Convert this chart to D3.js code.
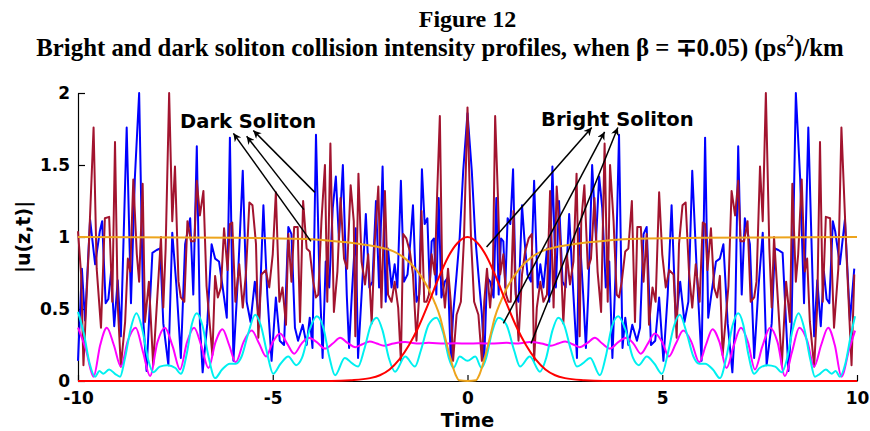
<!DOCTYPE html>
<html><head><meta charset="utf-8">
<script src="https://cdn.jsdelivr.net/npm/d3@7"></script>
<style>body{margin:0;background:#fff}svg{display:block}</style>
</head><body>
<svg id="chart" width="870" height="431"></svg>
<script>
// ---- tick labels ----
const xTicks = [-10, -5, 0, 5, 10];
const xTickLabels = ["-10", "-5", "0", "5", "10"];
const yTicks = [0, 0.5, 1, 1.5, 2];
const yTickLabels = ["0", "0.5", "1", "1.5", "2"];

// ---- series values [time, |u|] ----
const blueWave = [[-10,0.14],[-9.9,0.78],[-9.82,0.42],[-9.69,1.12],[-9.56,0.81],[-9.44,1.04],[-9.38,1.11],[-9.29,0.54],[-9.22,0.57],[-9.15,0.76],[-9.07,0.38],[-8.98,0.70],[-8.9,0.31],[-8.75,1.76],[-8.64,0.54],[-8.54,1.41],[-8.43,2.0],[-8.32,0.4],[-8.24,0.07],[-8.09,0.89],[-7.98,0.91],[-7.89,0.92],[-7.81,0.4],[-7.68,0.11],[-7.58,1.03],[-7.47,0.65],[-7.36,0.16],[-7.25,0.95],[-7.12,1.13],[-7.04,0.6],[-6.95,1.63],[-6.87,0.4],[-6.8,0.06],[-6.68,0.4],[-6.57,0.95],[-6.48,0.85],[-6.38,0.83],[-6.27,0.62],[-6.18,0.44],[-6.1,1.69],[-6.01,0.14],[-5.89,0.74],[-5.77,1.46],[-5.67,0.55],[-5.57,0.41],[-5.46,0.69],[-5.35,0.41],[-5.24,1.22],[-5.14,0.6],[-5.03,0.14],[-4.92,0.58],[-4.82,0.28],[-4.71,0.25],[-4.6,1.07],[-4.52,1.02],[-4.43,0.37],[-4.35,0.28],[-4.23,0.39],[-4.13,0.25],[-4.05,0.44],[-3.98,0.23],[-3.89,1.71],[-3.81,0.81],[-3.72,0.16],[-3.64,0.83],[-3.55,0.65],[-3.46,1.2],[-3.38,1.42],[-3.3,0.98],[-3.2,1.5],[-3.1,0.6],[-3.04,0.23],[-2.97,0.6],[-2.87,1.06],[-2.81,0.16],[-2.69,0.74],[-2.61,1.16],[-2.52,0.65],[-2.44,0.69],[-2.35,1.25],[-2.27,0.65],[-2.18,1.49],[-2.1,0.55],[-2.04,0.92],[-1.95,0.65],[-1.87,0.81],[-1.8,0.65],[-1.71,1.39],[-1.63,0.69],[-1.54,0.74],[-1.46,0.99],[-1.4,1.22],[-1.31,0.55],[-1.24,0.6],[-1.17,1.47],[-1.1,1.09],[-1.03,1.13],[-0.97,0.65],[-0.92,0.97],[-0.86,0.99],[-0.8,0.6],[-0.74,1.27],[-0.67,0.58],[-0.58,0.69],[-0.5,0.72],[-0.43,0.14],[-0.37,0.46],[-0.28,0.74],[-0.2,1.0],[-0.11,1.46],[0,1.86],
[0.11,1.46],[0.2,1.0],[0.28,0.74],[0.37,0.46],[0.43,0.14],[0.5,0.72],[0.58,0.69],[0.67,0.58],[0.74,1.27],[0.8,0.6],[0.86,0.99],[0.92,0.97],[0.97,0.65],[1.03,1.13],[1.1,1.09],[1.17,1.47],[1.24,0.6],[1.31,0.55],[1.4,1.22],[1.46,0.99],[1.54,0.74],[1.63,0.69],[1.71,1.39],[1.8,0.65],[1.87,0.81],[1.95,0.65],[2.04,0.92],[2.1,0.55],[2.18,1.49],[2.27,0.65],[2.35,1.25],[2.44,0.69],[2.52,0.65],[2.61,1.16],[2.69,0.74],[2.81,0.16],[2.87,1.06],[2.97,0.6],[3.04,0.23],[3.1,0.6],[3.2,1.5],[3.3,0.98],[3.38,1.42],[3.46,1.2],[3.55,0.65],[3.64,0.83],[3.72,0.16],[3.81,0.81],[3.89,1.71],[3.98,0.23],[4.05,0.44],[4.13,0.25],[4.23,0.39],[4.35,0.28],[4.43,0.37],[4.52,1.02],[4.6,1.07],[4.71,0.25],[4.82,0.28],[4.92,0.58],[5.03,0.14],[5.14,0.6],[5.24,1.22],[5.35,0.41],[5.46,0.69],[5.57,0.41],[5.67,0.55],[5.77,1.46],[5.89,0.74],[6.01,0.14],[6.1,1.69],[6.18,0.44],[6.27,0.62],[6.38,0.83],[6.48,0.85],[6.57,0.95],[6.68,0.4],[6.8,0.06],[6.87,0.4],[6.95,1.63],[7.04,0.6],[7.12,1.13],[7.25,0.95],[7.36,0.16],[7.47,0.65],[7.58,1.03],[7.68,0.11],[7.81,0.4],[7.89,0.92],[7.98,0.91],[8.09,0.89],[8.24,0.07],[8.32,0.4],[8.43,2.0],[8.54,1.41],[8.64,0.54],[8.75,1.76],[8.9,0.31],[8.98,0.70],[9.07,0.38],[9.15,0.76],[9.22,0.57],[9.29,0.54],[9.38,1.11],[9.44,1.04],[9.56,0.81],[9.69,1.12],[9.82,0.42],[9.93,0.78]];

const darkRedWave = [[-10,1.04],[-9.92,0.74],[-9.86,0.11],[-9.73,0.88],[-9.6,1.76],[-9.52,0.78],[-9.41,0.37],[-9.31,1.13],[-9.2,1.14],[-9.12,0.55],[-9.05,1.66],[-8.98,0.53],[-8.9,0.1],[-8.79,0.41],[-8.72,0.85],[-8.66,0.76],[-8.58,1.4],[-8.49,0.88],[-8.43,0.69],[-8.34,1.37],[-8.28,0.41],[-8.18,0.69],[-8.07,0.11],[-7.94,0.69],[-7.87,1.0],[-7.81,0.51],[-7.75,0.92],[-7.66,2.0],[-7.58,1.11],[-7.51,1.49],[-7.42,0.69],[-7.36,0.58],[-7.27,0.55],[-7.19,1.11],[-7.1,0.97],[-7.01,0.97],[-6.95,1.39],[-6.87,1.15],[-6.78,1.32],[-6.7,0.66],[-6.61,0.37],[-6.55,0.18],[-6.48,0.73],[-6.41,0.58],[-6.33,0.65],[-6.25,1.06],[-6.16,0.77],[-6.1,1.09],[-6.04,1.1],[-5.96,0.55],[-5.86,0.81],[-5.77,0.51],[-5.69,0.74],[-5.6,1.24],[-5.52,1.22],[-5.43,0.95],[-5.37,0.3],[-5.29,0.74],[-5.18,0.77],[-5.09,0.65],[-5.0,0.88],[-4.92,1.31],[-4.83,0.55],[-4.75,0.65],[-4.66,0.39],[-4.6,1.02],[-4.52,0.69],[-4.45,1.07],[-4.36,1.07],[-4.3,0.41],[-4.22,1.25],[-4.13,0.92],[-4.05,0.9],[-3.96,0.69],[-3.89,0.58],[-3.83,0.6],[-3.75,1.11],[-3.66,1.5],[-3.6,0.55],[-3.52,1.65],[-3.43,0.48],[-3.34,0.76],[-3.26,1.27],[-3.17,0.85],[-3.09,0.78],[-3.0,1.36],[-2.92,1.11],[-2.88,0.31],[-2.8,1.44],[-2.72,0.83],[-2.63,0.67],[-2.55,0.88],[-2.46,0.4],[-2.38,0.97],[-2.29,1.35],[-2.21,0.51],[-2.12,1.32],[-2.04,0.6],[-1.95,0.55],[-1.87,0.69],[-1.78,0.51],[-1.71,0.14],[-1.65,1.02],[-1.57,0.99],[-1.48,0.9],[-1.4,0.74],[-1.31,0.28],[-1.22,0.69],[-1.18,1.18],[-1.11,0.55],[-1.05,0.55],[-0.99,0.6],[-0.92,0.88],[-0.84,0.74],[-0.78,1.29],[-0.71,1.84],[-0.65,0.74],[-0.58,0.51],[-0.5,0.78],[-0.43,0.55],[-0.37,0.14],[-0.28,0.46],[-0.17,0.55],[-0.09,0.99],[0,1.9],
[0.09,0.99],[0.17,0.55],[0.28,0.46],[0.37,0.14],[0.43,0.55],[0.5,0.78],[0.58,0.51],[0.65,0.74],[0.71,1.84],[0.78,1.29],[0.84,0.74],[0.92,0.88],[0.99,0.6],[1.05,0.55],[1.11,0.55],[1.18,1.18],[1.22,0.69],[1.31,0.28],[1.4,0.74],[1.48,0.9],[1.57,0.99],[1.65,1.02],[1.71,0.14],[1.78,0.51],[1.87,0.69],[1.95,0.55],[2.04,0.6],[2.12,1.32],[2.21,0.51],[2.29,1.35],[2.38,0.97],[2.46,0.4],[2.55,0.88],[2.63,0.67],[2.72,0.83],[2.8,1.44],[2.88,0.31],[2.92,1.11],[3.0,1.36],[3.09,0.78],[3.17,0.85],[3.26,1.27],[3.34,0.76],[3.43,0.48],[3.52,1.65],[3.6,0.55],[3.66,1.5],[3.75,1.11],[3.83,0.6],[3.89,0.58],[3.96,0.69],[4.05,0.9],[4.13,0.92],[4.22,1.25],[4.3,0.41],[4.36,1.07],[4.45,1.07],[4.52,0.69],[4.6,1.02],[4.66,0.39],[4.75,0.65],[4.83,0.55],[4.92,1.31],[5.0,0.88],[5.09,0.65],[5.18,0.77],[5.29,0.74],[5.37,0.3],[5.43,0.95],[5.52,1.22],[5.6,1.24],[5.69,0.74],[5.77,0.51],[5.86,0.81],[5.96,0.55],[6.04,1.1],[6.1,1.09],[6.16,0.77],[6.25,1.06],[6.33,0.65],[6.41,0.58],[6.48,0.73],[6.55,0.18],[6.61,0.37],[6.7,0.66],[6.78,1.32],[6.87,1.15],[6.95,1.39],[7.01,0.97],[7.1,0.97],[7.19,1.11],[7.27,0.55],[7.36,0.58],[7.42,0.69],[7.51,1.49],[7.58,1.11],[7.66,2.0],[7.75,0.92],[7.81,0.51],[7.87,1.0],[7.94,0.69],[8.07,0.11],[8.18,0.69],[8.28,0.41],[8.34,1.37],[8.43,0.69],[8.49,0.88],[8.58,1.4],[8.66,0.76],[8.72,0.85],[8.79,0.41],[8.9,0.1],[8.98,0.53],[9.05,1.66],[9.12,0.55],[9.2,1.14],[9.31,1.13],[9.41,0.37],[9.52,0.78],[9.6,1.76],[9.73,0.88],[9.86,0.11],[9.93,0.74]];

const cyanWave = [[-10,0.48],[-9.85,0.33],[-9.7,0.12],[-9.56,0.03],[-9.45,0.07],[-9.35,0.05],[-9.2,0.08],[-9.05,0.05],[-8.92,0.03],[-8.8,0.15],[-8.65,0.36],[-8.5,0.47],[-8.35,0.36],[-8.2,0.15],[-8.07,0.06],[-7.9,0.1],[-7.7,0.11],[-7.5,0.09],[-7.36,0.05],[-7.2,0.2],[-7.08,0.39],[-6.95,0.47],[-6.8,0.38],[-6.65,0.17],[-6.48,0.02],[-6.3,0.08],[-6.1,0.12],[-5.95,0.12],[-5.8,0.17],[-5.63,0.33],[-5.45,0.46],[-5.3,0.38],[-5.15,0.2],[-4.99,0.05],[-4.8,0.12],[-4.6,0.17],[-4.4,0.11],[-4.25,0.16],[-4.05,0.36],[-3.87,0.45],[-3.7,0.37],[-3.55,0.17],[-3.4,0.04],[-3.15,0.16],[-2.95,0.12],[-2.81,0.1],[-2.65,0.22],[-2.48,0.39],[-2.33,0.44],[-2.18,0.35],[-2.02,0.16],[-1.86,0.065],[-1.6,0.17],[-1.35,0.1],[-1.2,0.21],[-1.0,0.39],[-0.8,0.44],[-0.62,0.33],[-0.48,0.16],[-0.36,0.09],[-0.2,0.17],[0,0.14],
[0.2,0.17],[0.36,0.09],[0.48,0.16],[0.62,0.33],[0.8,0.44],[1.0,0.39],[1.2,0.21],[1.35,0.1],[1.6,0.17],[1.86,0.065],[2.02,0.16],[2.18,0.35],[2.33,0.44],[2.48,0.39],[2.65,0.22],[2.81,0.1],[2.95,0.12],[3.15,0.16],[3.4,0.04],[3.55,0.17],[3.7,0.37],[3.87,0.45],[4.05,0.36],[4.25,0.16],[4.4,0.11],[4.6,0.17],[4.8,0.12],[4.99,0.05],[5.15,0.2],[5.3,0.38],[5.45,0.46],[5.63,0.33],[5.8,0.17],[5.95,0.12],[6.1,0.12],[6.3,0.08],[6.48,0.02],[6.65,0.17],[6.8,0.38],[6.95,0.47],[7.08,0.39],[7.2,0.2],[7.36,0.05],[7.5,0.09],[7.7,0.11],[7.9,0.1],[8.07,0.06],[8.2,0.15],[8.35,0.36],[8.5,0.47],[8.65,0.36],[8.8,0.15],[8.92,0.03],[9.05,0.05],[9.2,0.08],[9.35,0.05],[9.45,0.07],[9.56,0.03],[9.7,0.12],[9.85,0.33],[9.95,0.45]];

const magentaWave = [[-10,0.37],[-9.8,0.22],[-9.6,0.03],[-9.43,0.25],[-9.26,0.37],[-9.08,0.25],[-8.9,0.1],[-8.72,0.28],[-8.52,0.37],[-8.33,0.2],[-8.15,0.035],[-7.96,0.27],[-7.77,0.37],[-7.57,0.24],[-7.38,0.08],[-7.2,0.27],[-7.02,0.37],[-6.83,0.24],[-6.65,0.09],[-6.47,0.27],[-6.29,0.36],[-6.12,0.25],[-5.95,0.13],[-5.75,0.27],[-5.54,0.35],[-5.35,0.26],[-5.17,0.17],[-5.0,0.27],[-4.81,0.33],[-4.63,0.26],[-4.45,0.19],[-4.26,0.26],[-4.08,0.30],[-3.87,0.27],[-3.66,0.225],[-3.46,0.26],[-3.27,0.30],[-3.08,0.265],[-2.88,0.235],[-2.7,0.255],[-2.51,0.275],[-2.33,0.26],[-2.14,0.245],[-1.9,0.26],[-1.6,0.27],[-1.3,0.26],[-1.0,0.265],[-0.6,0.26],[-0.3,0.262],[0,0.26],
[0.3,0.262],[0.6,0.26],[1.0,0.265],[1.3,0.26],[1.6,0.27],[1.9,0.26],[2.14,0.245],[2.33,0.26],[2.51,0.275],[2.7,0.255],[2.88,0.235],[3.08,0.265],[3.27,0.30],[3.46,0.26],[3.66,0.225],[3.87,0.27],[4.08,0.30],[4.26,0.26],[4.45,0.19],[4.63,0.26],[4.81,0.33],[5.0,0.27],[5.17,0.17],[5.35,0.26],[5.54,0.35],[5.75,0.27],[5.95,0.13],[6.12,0.25],[6.29,0.36],[6.47,0.27],[6.65,0.09],[6.83,0.24],[7.02,0.37],[7.2,0.27],[7.38,0.08],[7.57,0.24],[7.77,0.37],[7.96,0.27],[8.15,0.035],[8.33,0.2],[8.52,0.37],[8.72,0.28],[8.9,0.1],[9.08,0.25],[9.26,0.37],[9.43,0.25],[9.6,0.03],[9.8,0.22],[9.95,0.35]];

const darkSoliton = [[-10,1.0],[-6,0.995],[-4,0.985],[-3.4,0.97],[-3,0.96],[-2.6,0.945],[-2.2,0.925],[-1.9,0.9],[-1.6,0.85],[-1.4,0.8],[-1.2,0.73],[-1.0,0.64],[-0.85,0.55],[-0.7,0.44],[-0.6,0.33],[-0.5,0.22],[-0.4,0.12],[-0.3,0.04],[-0.22,0.005],[0,0],[0.22,0.005],[0.3,0.04],[0.4,0.12],[0.5,0.22],[0.6,0.33],[0.7,0.44],[0.85,0.55],[1.0,0.64],[1.2,0.73],[1.4,0.8],[1.6,0.85],[1.9,0.9],[2.2,0.925],[2.6,0.945],[3,0.96],[3.4,0.97],[4,0.985],[6,0.995],[10,1.0]];

const brightSoliton = [[-10,0],[-3.5,0],[-3,0.005],[-2.5,0.02],[-2.25,0.04],[-2,0.08],[-1.75,0.15],[-1.5,0.25],[-1.25,0.38],[-1,0.54],[-0.75,0.71],[-0.5,0.86],[-0.25,0.96],[0,1.0],[0.25,0.96],[0.5,0.86],[0.75,0.71],[1,0.54],[1.25,0.38],[1.5,0.25],[1.75,0.15],[2,0.08],[2.25,0.04],[2.5,0.02],[3,0.005],[3.5,0],[10,0]];

// ---- annotations (data units) ----
const darkLabel = {text: "Dark Soliton", t: -7.38, v: 1.757};
const darkArrows = [[-4.02,0.97,-6.01,1.72],[-4.2,1.19,-5.67,1.70],[-3.92,1.31,-5.5,1.74]];
const brightLabel = {text: "Bright Soliton", t: 1.89, v: 1.77};
const brightArrows = [[0.49,0.93,3.19,1.76],[0.92,0.40,3.52,1.73],[1.63,0.26,3.86,1.76]];

// ---- drawing ----
const svg = d3.select("#chart");
const W = 870, H = 431;
const margin = {left: 78, right: 13, top: 93, bottom: 50};
const x = d3.scaleLinear().domain([-10, 10]).range([margin.left, W - margin.right]);
const y = d3.scaleLinear().domain([0, 2]).range([H - margin.bottom, margin.top]);

const sans = "'DejaVu Sans', Verdana, sans-serif";
const serif = "'Liberation Serif', 'Times New Roman', serif";

// axes
const gx = svg.append("g").attr("transform", `translate(0,${y(0)})`)
  .call(d3.axisBottom(x).tickValues(xTicks).tickFormat((d,i) => xTickLabels[i])
    .tickSize(-6).tickSizeOuter(0).tickPadding(11));
const gy = svg.append("g").attr("transform", `translate(${x(-10)},0)`)
  .call(d3.axisLeft(y).tickValues(yTicks).tickFormat((d,i) => yTickLabels[i])
    .tickSize(-7).tickSizeOuter(0).tickPadding(8));
[gx, gy].forEach(g => {
  g.selectAll("path.domain").attr("stroke", "#000").attr("stroke-width", 1.2);
  g.selectAll(".tick line").attr("stroke", "#000").attr("stroke-width", 1.2);
  g.selectAll(".tick text").attr("font-family", sans).attr("font-weight", "bold")
    .attr("font-size", 17).attr("fill", "#000");
});

// lines
const line = d3.line().x(d => x(d[0])).y(d => y(d[1]));
const smooth = d3.line().x(d => x(d[0])).y(d => y(d[1])).curve(d3.curveMonotoneX);
const series = [
  {data: blueWave, color: "#0000ff", gen: line, w: 2},
  {data: darkRedWave, color: "#a2142f", gen: line, w: 2},
  {data: magentaWave, color: "#ff00ff", gen: smooth, w: 2},
  {data: cyanWave, color: "#00f0f0", gen: smooth, w: 2},
  {data: darkSoliton, color: "#eda41c", gen: smooth, w: 2},
  {data: brightSoliton, color: "#ff0000", gen: smooth, w: 2}
];
svg.append("g").selectAll("path").data(series).join("path")
  .attr("d", s => s.gen(s.data))
  .attr("fill", "none")
  .attr("stroke", s => s.color)
  .attr("stroke-width", s => s.w)
  .attr("stroke-linejoin", "round");

// arrow marker
svg.append("defs").append("marker")
  .attr("id", "ah").attr("viewBox", "0 0 10 10").attr("refX", 10).attr("refY", 5)
  .attr("markerUnits", "userSpaceOnUse").attr("markerWidth", 10).attr("markerHeight", 8)
  .attr("orient", "auto")
  .append("path").attr("d", "M0,0 L10,5 L0,10 L3,5 Z").attr("fill", "#000");

const ann = svg.append("g");
ann.selectAll("line").data(darkArrows.concat(brightArrows)).join("line")
  .attr("x1", d => x(d[0])).attr("y1", d => y(d[1]))
  .attr("x2", d => x(d[2])).attr("y2", d => y(d[3]))
  .attr("stroke", "#000").attr("stroke-width", 1.5).attr("marker-end", "url(#ah)");
ann.selectAll("text").data([darkLabel, brightLabel]).join("text")
  .attr("x", d => x(d.t)).attr("y", d => y(d.v))
  .attr("font-family", sans).attr("font-weight", "bold").attr("font-size", 19.5)
  .attr("fill", "#000").text(d => d.text);

// axis labels
svg.append("text").attr("x", x(0)).attr("y", 427).attr("text-anchor", "middle")
  .attr("font-family", sans).attr("font-weight", "bold").attr("font-size", 19.5).text("Time");
svg.append("text").attr("transform", `translate(30,${y(1)}) rotate(-90)`).attr("text-anchor", "middle")
  .attr("font-family", sans).attr("font-weight", "bold").attr("font-size", 19).text("|u(z,t)|");

// title
svg.append("text").attr("x", x(0)).attr("y", 27).attr("text-anchor", "middle")
  .attr("font-family", serif).attr("font-weight", "bold").attr("font-size", 24).text("Figure 12");
const t2 = svg.append("text").attr("x", 440).attr("y", 56).attr("text-anchor", "middle")
  .attr("font-family", serif).attr("font-weight", "bold").attr("font-size", 24.8);
t2.append("tspan").text("Bright and dark soliton collision intensity profiles, when β = ∓0.05) (ps");
t2.append("tspan").attr("font-size", 16).attr("dy", -10).text("2");
t2.append("tspan").attr("dy", 10).text(")/km");
</script>
</body></html>
